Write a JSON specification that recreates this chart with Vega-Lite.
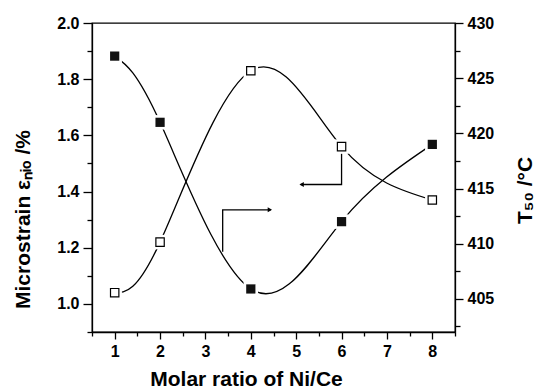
{
  "$schema": "https://vega.github.io/schema/vega-lite/v6.json",
  "width": 363,
  "height": 309,
  "autosize": "none",
  "padding": {"left": 92, "top": 23, "right": 88, "bottom": 57},
  "background": "white",
  "config": {
    "view": {"stroke": "black", "strokeWidth": 1.3},
    "font": "Liberation Sans",
    "axis": {
      "grid": false,
      "domainColor": "black",
      "domainWidth": 1.3,
      "tickColor": "black",
      "tickWidth": 1.3,
      "labelFont": "Liberation Sans",
      "labelFontWeight": "bold",
      "labelFontSize": 16,
      "labelColor": "black",
      "labelPadding": 4,
      "labelFlush": false,
      "labelOverlap": false,
      "titleFont": "Liberation Sans",
      "titleFontWeight": "bold",
      "titleFontSize": 21,
      "titleColor": "black"
    }
  },
  "datasets": {
    "eps": [
      {"x": 1, "y": 1.04},
      {"x": 2, "y": 1.22},
      {"x": 4, "y": 1.83},
      {"x": 6, "y": 1.56},
      {"x": 8, "y": 1.37}
    ],
    "t50": [
      {"x": 1, "y": 427},
      {"x": 2, "y": 421},
      {"x": 4, "y": 405.9},
      {"x": 6, "y": 412},
      {"x": 8, "y": 419}
    ],
    "arrows": [
      {"id": "a", "o": 1, "x": 3.38, "y": 1.186},
      {"id": "a", "o": 2, "x": 3.38, "y": 1.335},
      {"id": "a", "o": 3, "x": 4.44, "y": 1.335},
      {"id": "b", "o": 1, "x": 6.0, "y": 1.56},
      {"id": "b", "o": 2, "x": 6.0, "y": 1.425},
      {"id": "b", "o": 3, "x": 5.1, "y": 1.425}
    ],
    "heads": [
      {"x": 4.42, "y": 1.335, "shape": "triangle-right"},
      {"x": 5.12, "y": 1.425, "shape": "triangle-left"}
    ]
  },
  "layer": [
    {
      "encoding": {
        "x": {
          "field": "x",
          "type": "quantitative",
          "scale": {"domain": [0.5, 8.5], "nice": false, "zero": false},
          "axis": {
            "title": "Molar ratio of Ni/Ce",
            "values": [0.5, 1, 1.5, 2, 2.5, 3, 3.5, 4, 4.5, 5, 5.5, 6, 6.5, 7, 7.5, 8, 8.5],
            "format": "~g",
            "labelExpr": "datum.value % 1 == 0 ? datum.label : ''",
            "tickSize": {"condition": {"test": "datum.value % 1 == 0", "value": 7}, "value": 4},
            "titleX": 154,
            "titleY": 47,
            "titleAlign": "center",
            "titleBaseline": "middle"
          }
        },
        "y": {
          "field": "y",
          "type": "quantitative",
          "scale": {"domain": [0.9, 2.0], "nice": false, "zero": false},
          "axis": {
            "orient": "left",
            "title": "Microstrain εₙᵢₒ /%",
            "values": [0.9, 1.0, 1.1, 1.2, 1.3, 1.4, 1.5, 1.6, 1.7, 1.8, 1.9, 2.0],
            "format": ".1f",
            "labelExpr": "round(datum.value * 10) % 2 == 0 ? datum.label : ''",
            "tickSize": {"condition": {"test": "round(datum.value * 10) % 2 == 0", "value": 9}, "value": 5},
            "titleAngle": 270,
            "titleAlign": "center",
            "titleBaseline": "middle",
            "titleX": -69,
            "titleY": 196
          }
        }
      },
      "layer": [
        {
          "data": {"name": "eps"},
          "mark": {"type": "line", "interpolate": "natural", "color": "black", "strokeWidth": 1.3}
        },
        {
          "data": {"name": "arrows"},
          "mark": {"type": "line", "color": "black", "strokeWidth": 1.3},
          "encoding": {"detail": {"field": "id"}, "order": {"field": "o", "type": "quantitative"}}
        },
        {
          "data": {"name": "heads"},
          "mark": {"type": "point", "filled": true, "color": "black", "size": 25, "opacity": 1},
          "encoding": {"shape": {"field": "shape", "type": "nominal", "scale": null}}
        },
        {
          "data": {"name": "eps"},
          "mark": {"type": "point", "shape": "square", "filled": true, "color": "white", "size": 210, "opacity": 1}
        },
        {
          "data": {"name": "eps"},
          "mark": {"type": "point", "shape": "square", "fill": "white", "stroke": "black", "strokeWidth": 1.2, "size": 70, "opacity": 1}
        }
      ]
    },
    {
      "encoding": {
        "x": {
          "field": "x",
          "type": "quantitative",
          "scale": {"domain": [0.5, 8.5], "nice": false, "zero": false},
          "axis": {
            "title": "Molar ratio of Ni/Ce",
            "values": [0.5, 1, 1.5, 2, 2.5, 3, 3.5, 4, 4.5, 5, 5.5, 6, 6.5, 7, 7.5, 8, 8.5],
            "format": "~g",
            "labelExpr": "datum.value % 1 == 0 ? datum.label : ''",
            "tickSize": {"condition": {"test": "datum.value % 1 == 0", "value": 7}, "value": 4},
            "titleX": 154,
            "titleY": 47,
            "titleAlign": "center",
            "titleBaseline": "middle"
          }
        },
        "y": {
          "field": "y",
          "type": "quantitative",
          "scale": {"domain": [402, 430], "nice": false, "zero": false},
          "axis": {
            "orient": "right",
            "title": "T₅₀ /°C",
            "values": [402.5, 405, 407.5, 410, 412.5, 415, 417.5, 420, 422.5, 425, 427.5, 430],
            "format": "~g",
            "labelExpr": "datum.value % 5 == 0 ? datum.label : ''",
            "tickSize": {"condition": {"test": "datum.value % 5 == 0", "value": 8}, "value": 5},
            "titleAngle": 270,
            "titleAlign": "center",
            "titleBaseline": "middle",
            "titleX": 70,
            "titleY": 167
          }
        }
      },
      "layer": [
        {
          "data": {"name": "t50"},
          "mark": {"type": "line", "interpolate": "natural", "color": "black", "strokeWidth": 1.3}
        },
        {
          "data": {"name": "t50"},
          "mark": {"type": "point", "shape": "square", "filled": true, "color": "white", "size": 210, "opacity": 1}
        },
        {
          "data": {"name": "t50"},
          "mark": {"type": "point", "shape": "square", "filled": true, "color": "#111111", "size": 85, "opacity": 1}
        }
      ]
    }
  ],
  "resolve": {"scale": {"y": "independent"}}
}
